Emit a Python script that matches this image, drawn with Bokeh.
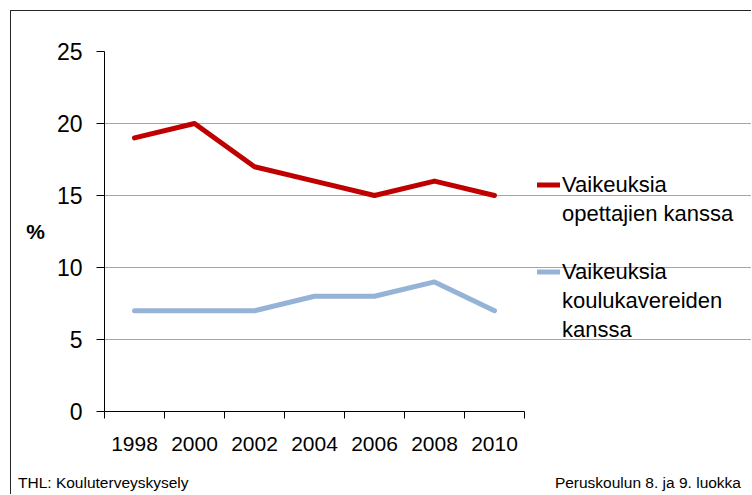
from bokeh.plotting import figure
from bokeh.layouts import column
from bokeh.models import Range1d, FixedTicker, Legend, LegendItem, Div
from bokeh.embed import file_html
from bokeh.resources import INLINE

# ---- data ----
years = [1998, 2000, 2002, 2004, 2006, 2008, 2010]
teachers = [19, 20, 17, 16, 15, 16, 15]        # Vaikeuksia opettajien kanssa
classmates = [7, 7, 7, 8, 8, 9, 7]             # Vaikeuksia koulukavereiden kanssa
y_ticks = [0, 5, 10, 15, 20, 25]
series_names = [["Vaikeuksia", "opettajien kanssa"],
                ["Vaikeuksia", "koulukavereiden", "kanssa"]]
colors = ["#C00000", "#95B3D7"]
footer_left = "THL: Kouluterveyskysely"
footer_right = "Peruskoulun 8. ja 9. luokka"

BORDER = "1px solid #262626"
W, H1, H2 = 741, 455, 29
FRAME_LEFT, FRAME_TOP, FRAME_BOTTOM = 93, 40, 400
px_per_unit = 30.0                               # 2-year category = 60 px
x_start = years[0] - 1
x_end = x_start + (W - FRAME_LEFT) / px_per_unit  # frame runs to the right edge

p = figure(width=W, height=H1, output_backend="svg", toolbar_location=None,
           x_range=Range1d(x_start, x_end),
           y_range=Range1d(y_ticks[0], y_ticks[-1]),
           min_border_left=FRAME_LEFT, min_border_right=0,
           min_border_top=FRAME_TOP, min_border_bottom=H1 - FRAME_BOTTOM,
           margin=(10, 0, 0, 10),
           styles={"border-top": BORDER, "border-left": BORDER})
p.outline_line_color = None
p.background_fill_color = "white"
p.border_fill_color = "white"

# x axis: labels at category centres, ticks at category boundaries
boundaries = [y - 1 for y in years] + [years[-1] + 1]
p.xaxis.bounds = (boundaries[0], boundaries[-1])
p.xaxis.ticker = FixedTicker(ticks=years, minor_ticks=boundaries)
p.xaxis.major_label_overrides = {y: str(y) for y in years}
p.xaxis.major_tick_out = 0
p.xaxis.major_tick_in = 0
p.xaxis.minor_tick_out = 7
p.xaxis.minor_tick_in = 0
p.xaxis.minor_tick_line_color = "#000000"
p.xaxis.axis_line_color = "#000000"
p.xaxis.major_label_text_font = "Liberation Sans"
p.xaxis.major_label_text_font_size = "21px"
p.xaxis.major_label_text_color = "#000000"
p.xaxis.major_label_standoff = 18

p.yaxis.ticker = FixedTicker(ticks=y_ticks)
p.yaxis.major_tick_out = 8
p.yaxis.major_tick_in = 0
p.yaxis.minor_tick_out = 0
p.yaxis.minor_tick_in = 0
p.yaxis.axis_line_color = "#000000"
p.yaxis.major_tick_line_color = "#000000"
p.yaxis.major_label_text_font = "Liberation Sans"
p.yaxis.major_label_text_font_size = "23px"
p.yaxis.major_label_text_color = "#000000"
p.yaxis.major_label_standoff = 14
p.yaxis.axis_label = "%"
p.yaxis.axis_label_orientation = "horizontal"
p.yaxis.axis_label_text_font = "Liberation Sans"
p.yaxis.axis_label_text_font_style = "bold"
p.yaxis.axis_label_text_font_size = "21px"
p.yaxis.axis_label_text_color = "#000000"
p.yaxis.axis_label_standoff = 9

p.xgrid.grid_line_color = None
p.ygrid.ticker = FixedTicker(ticks=y_ticks[1:])
p.ygrid.bounds = (boundaries[0], boundaries[-1])
p.ygrid.grid_line_color = "#A6A6A6"
p.ygrid.grid_line_width = 1

# series
renderers = []
for vals, c in zip([teachers, classmates], colors):
    renderers.append(p.line(years, vals, line_color=c, line_width=5,
                            line_cap="round", line_join="round"))

# invisible renderer for text-only legend rows
blank = p.line(x=[], y=[], line_alpha=0)

items = []
for k, (names, r) in enumerate(zip(series_names, renderers)):
    if k > 0:
        items.append(LegendItem(label=" ", renderers=[blank]))
    for i, t in enumerate(names):
        items.append(LegendItem(label=t, renderers=[r if i == 0 else blank]))

ITEM_H = 29
legend_top = 170 - 11                  # canvas px (page y 170)
legend_h = len(items) * ITEM_H
loc_y = (FRAME_BOTTOM - FRAME_TOP) - (legend_top - FRAME_TOP) - legend_h
legend = Legend(items=items, location=(433, loc_y),
                margin=0, padding=0, spacing=0,
                glyph_width=23, glyph_height=ITEM_H, label_height=ITEM_H, label_standoff=2,
                label_text_font="Liberation Sans", label_text_font_size="22px",
                label_text_color="#000000", border_line_color=None,
                background_fill_alpha=0)
p.add_layout(legend, "center")

# footer strip (plain text, left and right aligned)
footer_html = (
    '<div style="display:flex;justify-content:space-between;width:732px;'
    'padding:9px 2px 0 7px;font-family:\'Liberation Sans\',Arial,sans-serif;'
    'font-size:15.5px;line-height:18px;color:#000000;white-space:nowrap;">'
    f'<span>{footer_left}</span><span>{footer_right}</span></div>'
)
footer = Div(text=footer_html, width=W, height=H2, margin=(0, 0, 0, 10),
             styles={"border-left": BORDER, "overflow": "hidden"})

layout = column(p, footer, spacing=0)
open("out.html", "w").write(file_html(layout, INLINE))
